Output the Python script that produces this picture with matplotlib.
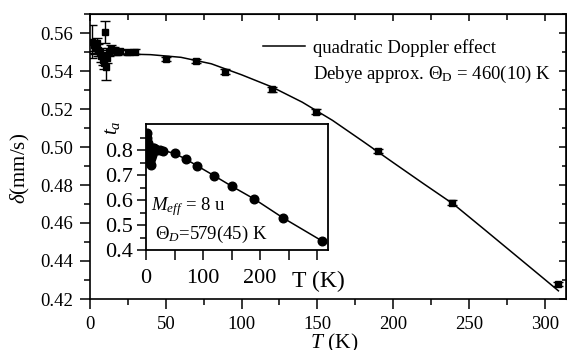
import matplotlib
matplotlib.use("Agg")
import matplotlib.pyplot as plt
from matplotlib.lines import Line2D
import numpy as np

plt.rcParams['font.family'] = ['Liberation Serif', 'DejaVu Serif']
plt.rcParams['mathtext.fontset'] = 'custom'
plt.rcParams['mathtext.rm'] = 'Liberation Serif'
plt.rcParams['mathtext.it'] = 'Liberation Serif:italic'
plt.rcParams['mathtext.bf'] = 'Liberation Serif:bold'

# ---------------- data: main panel ----------------
T_main = [1.5, 2.5, 3.5, 4.5, 5.5, 6.5, 7.5, 8.5, 9.5, 10, 10.5, 11.5, 12.5, 14, 16, 18,
          20, 25, 30, 50, 70, 89, 120, 149, 190, 239, 309]
delta_main = [0.5555, 0.5535, 0.5520, 0.5545, 0.5510, 0.5500, 0.5480, 0.5460, 0.5440,
              0.5607, 0.5422, 0.5470, 0.5500, 0.5515, 0.5510, 0.5500,
              0.5503, 0.5498, 0.5502, 0.5463, 0.5453, 0.5396, 0.5304, 0.5186,
              0.4979, 0.4707, 0.4279]
delta_err = [0.0085, 0.003, 0.003, 0.003, 0.003, 0.002, 0.003, 0.003, 0.003,
             0.0058, 0.0068, 0.003, 0.002, 0.002, 0.0015, 0.0015,
             0.0012, 0.0012, 0.0012, 0.0012, 0.0012, 0.0012, 0.0012, 0.0012,
             0.0012, 0.0012, 0.0012]

# fit curve (quadratic Doppler effect, Debye)
T_fit = [0, 20, 40, 60, 80, 100, 120, 140, 160, 180, 200, 220, 240, 260, 280, 300, 309]
delta_fit = [0.5492, 0.5490, 0.5486, 0.5472, 0.5438, 0.5380, 0.5316, 0.5236, 0.5140,
             0.5030, 0.4918, 0.4807, 0.4698, 0.4567, 0.4435, 0.4303, 0.4243]

# ---------------- data: inset ----------------
T_in = [1.5, 2.5, 3.5, 4.5, 5.5, 6.5, 7.5, 8.5, 9.5, 10, 10.5, 11.5, 12.5, 14, 16, 18,
        20, 25, 30, 50, 70, 90, 120, 150, 190, 240, 308]
ta_in = [0.87, 0.85, 0.83, 0.80, 0.78, 0.76, 0.75, 0.74, 0.77, 0.80, 0.78, 0.81,
         0.80, 0.81, 0.805, 0.80, 0.80, 0.80, 0.795, 0.787, 0.764, 0.737, 0.697,
         0.656, 0.604, 0.529, 0.438]
T_in_fit = [20, 50, 70, 90, 120, 150, 190, 240, 308]
ta_in_fit = [0.805, 0.787, 0.764, 0.737, 0.697, 0.656, 0.604, 0.529, 0.437]

main_xticks = [0, 50, 100, 150, 200, 250, 300]
main_yticks = [0.42, 0.44, 0.46, 0.48, 0.50, 0.52, 0.54, 0.56]
inset_xticks = [0, 100, 200]
inset_yticks = [0.4, 0.5, 0.6, 0.7, 0.8]

W, H = 567, 350
fig = plt.figure(figsize=(W / 100, H / 100), dpi=100)

def px_rect(l, t, r, b):
    return [l / W, 1 - b / H, (r - l) / W, (b - t) / H]

ax = fig.add_axes(px_rect(90, 14, 566, 299))
ax.plot(T_fit, delta_fit, color='black', lw=1.1, zorder=2)
ax.errorbar(T_main, delta_main, yerr=delta_err, fmt='s', color='black', ms=4.8,
            capsize=3.4, elinewidth=1.0, capthick=1.0, zorder=3)
ax.set_xlim(0, 314)
ax.set_ylim(0.42, 0.57)
ax.set_xticks(main_xticks)
ax.set_yticks(main_yticks)
ax.set_yticklabels([f"{v:.2f}" for v in main_yticks])
ax.set_xticks(np.arange(25, 314, 50), minor=True)
ax.set_yticks(np.arange(0.43, 0.571, 0.02), minor=True)
ax.tick_params(which='both', direction='out', labelsize=13.5, width=1.1)
ax.tick_params(which='major', length=7, pad=5)
ax.tick_params(which='minor', length=4)
for s in ax.spines.values():
    s.set_linewidth(1.2)

top = ax.secondary_xaxis('top')
top.set_xticks(main_xticks)
top.set_xticks(np.arange(25, 314, 50), minor=True)
top.tick_params(which='both', direction='in', labeltop=False, width=1.1)
top.tick_params(which='major', length=5)
top.tick_params(which='minor', length=4)
right = ax.secondary_yaxis('right')
right.set_yticks(main_yticks)
right.set_yticks(np.arange(0.43, 0.571, 0.02), minor=True)
right.tick_params(which='both', direction='in', labelright=False, width=1.1)
right.tick_params(which='major', length=5)
right.tick_params(which='minor', length=3)

# legend
h = Line2D([], [], color='black', lw=1.1)
ax.legend([h], ['quadratic Doppler effect'], loc='upper left',
          bbox_to_anchor=((263 - 90) / 476, (299 - 39) / 285), frameon=False,
          fontsize=13.5, handlelength=2.25, handletextpad=0.42, borderpad=0,
          borderaxespad=0)
fig.text(313 / W, 1 - 74 / H, r'Debye approx. $\Theta_\mathrm{D}$ = 460(10) K',
         fontsize=13.5, ha='left', va='center')

fig.text(20 / W, 1 - 168 / H, r'$\delta$(mm/s)', rotation=90, fontsize=15,
         ha='center', va='center')
fig.text(334 / W, 1 - 343 / H, r'$T$ (K)', fontsize=15.5, ha='center', va='center')

# ---------------- inset ----------------
axi = fig.add_axes(px_rect(146, 124, 328, 250))
axi.plot(T_in_fit, ta_in_fit, color='black', lw=1.1, zorder=2)
axi.plot(T_in, ta_in, 'o', color='black', ms=6.2, zorder=3)
axi.set_xlim(0, 319)
axi.set_ylim(0.4, 0.905)
axi.set_xticks(inset_xticks)
axi.set_xticks([50, 150, 250, 300], minor=True)
axi.set_yticks(inset_yticks)
axi.set_yticklabels([f"{v:.1f}" for v in inset_yticks])
axi.set_yticks(np.arange(0.45, 0.9, 0.1), minor=True)
axi.tick_params(which='both', direction='out', labelsize=16, width=1.1)
axi.tick_params(axis='y', which='major', length=6.5, pad=3)
axi.tick_params(axis='y', which='minor', length=4)
axi.tick_params(axis='x', which='both', length=7.5, pad=6)
for s in axi.spines.values():
    s.set_linewidth(1.3)
axi.text(0.945, -0.25, 'T (K)', transform=axi.transAxes, fontsize=17,
         ha='center', va='center')
fig.text(112 / W, 1 - 128 / H, r'$t_a$', rotation=90, fontsize=15,
         ha='center', va='center')
axi.text(0.03, (250 - 207) / 126, r'$M_{eff}$ = 8 u',
         transform=axi.transAxes, fontsize=13.5, ha='left', va='center')
axi.text(0.05, (250 - 234) / 126, r'$\mathit{\Theta}_D$=579(45) K',
         transform=axi.transAxes, fontsize=13.5, ha='left', va='center')

fig.savefig('out.png', dpi=100)
